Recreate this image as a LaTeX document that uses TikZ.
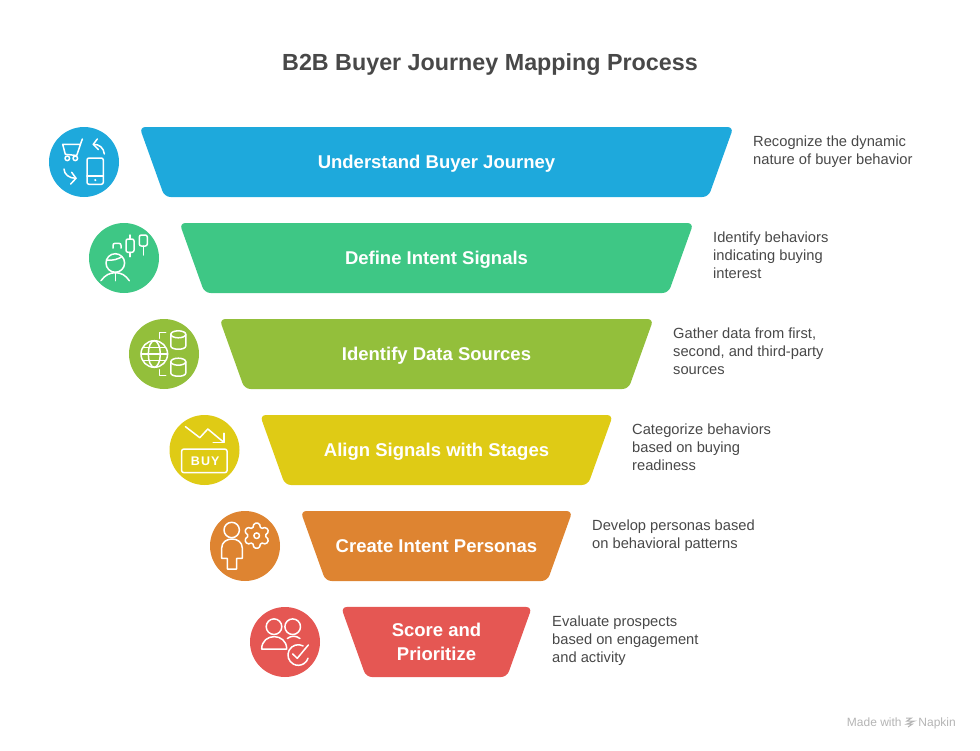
\documentclass[tikz,border=0pt]{standalone}
\usepackage{fontspec}
\setmainfont{Liberation Sans}
\usetikzlibrary{shapes, shapes.geometric, positioning}
\definecolor{cblue}{HTML}{1EA9DC}
\definecolor{cgreen}{HTML}{3EC785}
\definecolor{colive}{HTML}{93BF3B}
\definecolor{cyellow}{HTML}{DFCB15}
\definecolor{corange}{HTML}{DE8431}
\definecolor{cred}{HTML}{E55753}
\definecolor{cink}{HTML}{484848}
\definecolor{cfoot}{HTML}{B4B4B4}
\tikzset{
  funnel/.style={trapezium, shape border rotate=180, trapezium stretches body=true, trapezium angle=70.3,
    rounded corners=6pt, minimum height=70pt, inner xsep=0pt, inner ysep=26pt, outer sep=0pt,
    text height=15.5pt, text depth=2.5pt, text=white, align=center,
    font=\fontsize{18.5}{24}\selectfont\bfseries},
  badge/.style={circle, minimum size=70pt, inner sep=0pt, outer sep=0pt},
  note/.style={anchor=west, align=left, inner sep=0pt, text=cink, font=\fontsize{14.7}{18}\selectfont},
  icon/.style={draw=white, line width=1.5pt, line cap=round, line join=round}
}
\begin{document}
\begin{tikzpicture}[x=1pt, y=-1pt]
\useasboundingbox (0,0) rectangle (980,750);

\node[text=cink, font=\fontsize{23.3}{28}\selectfont\bfseries] (title) at (490,65) {B2B Buyer Journey Mapping Process};

% funnel
\node[funnel, fill=cblue, minimum width=594pt] (funnel1) at (436.5,162) {Understand Buyer Journey};
\node[funnel, fill=cgreen, minimum width=514pt, below of=funnel1, node distance=96pt] (funnel2) {Define Intent Signals};
\node[funnel, fill=colive, minimum width=434pt, below of=funnel2, node distance=96pt] (funnel3) {Identify Data Sources};
\node[funnel, fill=cyellow, minimum width=353pt, below of=funnel3, node distance=96pt] (funnel4) {Align Signals with Stages};
\node[funnel, fill=corange, minimum width=272pt, below of=funnel4, node distance=96pt] (funnel5) {Create Intent Personas};
\node[funnel, fill=cred, minimum width=191pt, below of=funnel5, node distance=96pt, text height=, text depth=, inner ysep=16.25pt] (funnel6) {Score and\\Prioritize};

\node[badge, fill=cblue, left of=funnel1, node distance=352.5pt] (badge1) {};
\node[badge, fill=cgreen, left of=funnel2, node distance=312.5pt] (badge2) {};
\node[badge, fill=colive, left of=funnel3, node distance=272.5pt] (badge3) {};
\node[badge, fill=cyellow, left of=funnel4, node distance=232pt] (badge4) {};
\node[badge, fill=corange, left of=funnel5, node distance=191.5pt] (badge5) {};
\node[badge, fill=cred, left of=funnel6, node distance=151.5pt] (badge6) {};

\node[note] (note1) at (753,152) {Recognize the dynamic\\nature of buyer behavior};
\node[note] (note2) at (713,255) {Identify behaviors\\indicating buying\\interest};
\node[note] (note3) at (673,351) {Gather data from first,\\second, and third-party\\sources};
\node[note] (note4) at (632,447) {Categorize behaviors\\based on buying\\readiness};
\node[note] (note5) at (592,536) {Develop personas based\\on behavioral patterns};
\node[note] (note6) at (552,641) {Evaluate prospects\\based on engagement\\and activity};

% cart and phone
\begin{scope}[shift={(badge1.center)}, every path/.append style={icon}]
\draw (-1.7,-23) -- (-7.3,-6.5) -- (-18.7,-7.7) -- (-21.3,-17.7) -- (-4,-17.7);
\draw (-16.7,-3.7) circle (2.3);
\draw (-8.7,-3.7) circle (2.3);
\draw[rounded corners=2pt] (3,-4) rectangle (19.3,22.3);
\draw (3,14) -- (19.3,14);
\fill[white, draw=none] (11.3,18) circle (1.2);
\draw (20.3,-8) .. controls (20,-14) and (15,-18) .. (9.3,-17.7);
\draw (13.3,-23) -- (9.3,-17.7) -- (14.3,-12.5);
\draw (-20,7) .. controls (-20,12) and (-15,16.5) .. (-8,16.3);
\draw (-12.3,10.3) -- (-8,16.3) -- (-13.3,22);
\end{scope}

% person and candles
\begin{scope}[shift={(badge2.center)}, every path/.append style={icon}]
\draw (-8.7,5) circle (9.3);
\draw (-17.5,2) .. controls (-12,3) and (-5,1) .. (-2,-1.5);
\draw (-23,22.7) .. controls (-19,17) and (-14,14.7) .. (-8.7,14.7) .. controls (-3,14.7) and (1.5,17) .. (5.3,22.7);
\draw (-8.7,14.7) -- (-8.7,22.7);
\draw[rounded corners=2pt] (-11,-10) -- (-11,-14.7) -- (-3,-14.7) -- (-3,-10);
\draw[rounded corners=2pt] (2,-19) rectangle (10,-5.7);
\draw (6,-23) -- (6,-19);
\draw (6,-5.7) -- (6,-1.3);
\draw[rounded corners=2pt] (15.3,-23) rectangle (23.3,-12);
\draw (19.3,-12) -- (19.3,-3);
\end{scope}

% globe and databases
\begin{scope}[shift={(badge3.center)}, every path/.append style={icon}]
\draw (-9.7,0) circle (13.3);
\draw (-9.7,0) ellipse (6 and 13.3);
\draw (-23,0) -- (3.6,0);
\draw (-21,-6.5) -- (1.6,-6.5);
\draw (-21,6.5) -- (1.6,6.5);
\draw (14.3,-19.7) ellipse (7.5 and 3.5);
\draw (6.8,-19.7) -- (6.8,-8) .. controls (6.8,-3.7) and (21.8,-3.7) .. (21.8,-8) -- (21.8,-19.7);
\draw (14.3,7.7) ellipse (7.5 and 3.5);
\draw (6.8,7.7) -- (6.8,19) .. controls (6.8,23.3) and (21.8,23.3) .. (21.8,19) -- (21.8,7.7);
\draw (1.7,-21.3) -- (-4.7,-21.3) -- (-4.7,-15.7);
\draw (1.7,21.3) -- (-4.7,21.3) -- (-4.7,15.7);
\end{scope}

% falling price and buy
\begin{scope}[shift={(badge4.center)}, every path/.append style={icon}]
\draw (-19,-23.3) -- (-4.7,-12.3) -- (3.3,-21) -- (19.3,-7.7);
\draw (19.3,-16.7) -- (19.3,-7.7) -- (8.7,-7.7);
\draw[rounded corners=2.5pt] (-23,-1) rectangle (22.7,22.7);
\node[draw=none, text=white, inner sep=0pt, font=\fontsize{12.5}{14}\selectfont\bfseries] (buy) at (0.7,11) {B\kern1.2pt U\kern1.2pt Y};
\end{scope}

% person and gear
\begin{scope}[shift={(badge5.center)}, every path/.append style={icon}]
\draw (-13.3,-16) circle (7.7);
\draw (-23.3,12.3) -- (-23.3,2) .. controls (-23.3,-10) and (-2.7,-10) .. (-2.7,2) -- (-2.7,12.3) -- (-8.3,12.3) -- (-8.3,23) -- (-17.7,23) -- (-17.7,12.3) -- cycle;
\begin{scope}[shift={(11.7,-10.3)}]
\draw[rounded corners=1.5pt] (78:12.8) -- (102:12.8) -- (120:8) -- (138:12.8) -- (162:12.8) -- (180:8) -- (198:12.8) -- (222:12.8) -- (240:8) -- (258:12.8) -- (282:12.8) -- (300:8) -- (318:12.8) -- (342:12.8) -- (0:8) -- (18:12.8) -- (42:12.8) -- (60:8) -- cycle;
\draw (0,0) circle (2.8);
\end{scope}
\end{scope}

% team and check
\begin{scope}[shift={(badge6.center)}, every path/.append style={icon}]
\draw (-11,-15.3) circle (7.8);
\draw (7.7,-15.3) circle (7.8);
\draw (-23.3,7) .. controls (-23.3,-9.5) and (1.7,-9.5) .. (1.7,7) -- cycle;
\draw (2.3,-3.5) .. controls (6,-6.5) and (11,-6.5) .. (15,-3.5);
\draw (18.1,3.9) arc (-62:-342:10.3);
\draw (7.7,12) -- (12.3,16.3) -- (23.3,3);
\end{scope}

% logo
\draw[cfoot, line width=1pt] (906,718) -- (911.5,718) -- (907,721) -- (914.5,721) -- (907,724) -- (912.5,724) -- (908,727);
\node[text=cfoot, anchor=east, inner sep=0pt, font=\fontsize{12}{13}\selectfont] (footer) at (956,723.5) {Made with \hspace{13.5pt}Napkin};
\end{tikzpicture}
\end{document}
